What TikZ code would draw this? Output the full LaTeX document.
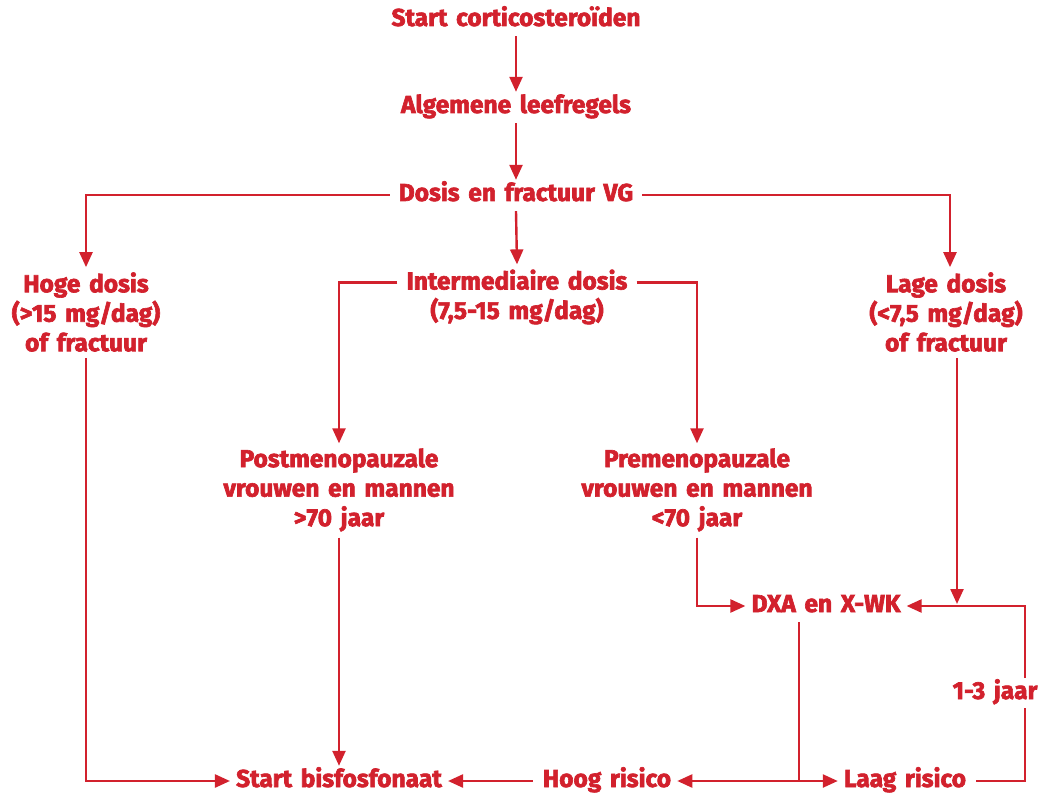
\documentclass[tikz,border=0pt]{standalone}
\usepackage{fontspec}
\setmainfont{Fira Sans}[BoldFeatures={FakeBold=2.6}, WordSpace=1.5]
\usetikzlibrary{arrows.meta,calc}
\definecolor{fred}{RGB}{210,33,45}
\begin{document}
\begin{tikzpicture}[x=1pt,y=-1pt,
  lbl/.style={text=fred, align=center, inner sep=0pt, font=\fontsize{24.5}{29.5}\selectfont\bfseries},
  one/.style={lbl, text height=17pt, text depth=5pt},
  conn/.style={draw=fred, line width=2.4pt},
  arr/.style={conn, -{Triangle[length=15pt,width=13pt]}}]
\useasboundingbox (0,0) rectangle (1047,794);
\node[one] (start) at (516,20) {Start corticosteroïden};
\node[one] (alg) at (516,107) {Algemene leefregels};
\node[one] (dosis) at (516,195) {Dosis en fractuur VG};
\node[lbl] (hoge) at (86,312) {Hoge dosis\\(>15 mg/dag)\\of fractuur};
\node[lbl] (inter) at (517,297) {Intermediaire dosis\\(7,5-15 mg/dag)};
\node[lbl] (lage) at (946,312) {Lage dosis\\(<7,5 mg/dag)\\of fractuur};
\node[lbl] (post) at (339,490) {Postmenopauzale\\vrouwen en mannen\\>70 jaar};
\node[lbl] (pre) at (697,490) {Premenopauzale\\vrouwen en mannen\\<70 jaar};
\node[one] (dxa) at (826,606) {DXA en X-WK};
\node[one] (jaar) at (995,693) {1-3 jaar};
\node[one] (bis) at (339,781) {Start bisfosfonaat};
\node[one] (hoog) at (607,781) {Hoog risico};
\node[one] (laag) at (905,781) {Laag risico};
\coordinate (jaarT) at (1025,678);
\coordinate (jaarB) at (1025,708);
\coordinate (split) at (799,781);
\coordinate (lageX) at (957,606);
% connectors
\draw[arr] ([yshift=-5pt]start.south) -- ([yshift=4pt]alg.north);
\draw[arr] ([yshift=-5pt]alg.south) -- ([yshift=4pt]dosis.north);
\draw[arr] ([xshift=-9pt]dosis.west) -| ([yshift=5pt]hoge.north);
\draw[arr] ([xshift=9pt]dosis.east) -| ([xshift=4pt,yshift=5pt]lage.north);
\draw[arr] ([yshift=-5pt]dosis.south) -- ([yshift=5pt]inter.north);
\draw[arr] ([xshift=-9pt,yshift=-13pt]inter.north west) -| ([yshift=5pt]post.north);
\draw[arr] ([xshift=9pt,yshift=-13pt]inter.north east) -| ([yshift=5pt]pre.north);
\draw[arr] ([yshift=-6pt]hoge.south) |- ([xshift=-6pt]bis.west);
\draw[arr] ([yshift=-6pt]post.south) -- ([yshift=4pt]post.south |- bis.north);
\draw[arr] ([yshift=-6pt]pre.south) |- ([xshift=-6pt]dxa.west);
\draw[arr] (lageX |- lage.south) ++(0,6) -- ([yshift=2pt]lageX);
\draw[conn] ([xshift=10pt]laag.east) -| (jaarB);
\draw[arr] (jaarT) |- ([xshift=6pt]dxa.east);
\draw[conn] (split |- dxa.south) ++(0,5) -- (split);
\draw[arr] (split) -- ([xshift=6pt]hoog.east);
\draw[arr] (split) -- ([xshift=-6pt]laag.west);
\draw[arr] ([xshift=-10pt]hoog.west) -- ([xshift=6pt]bis.east);
\end{tikzpicture}
\end{document}
